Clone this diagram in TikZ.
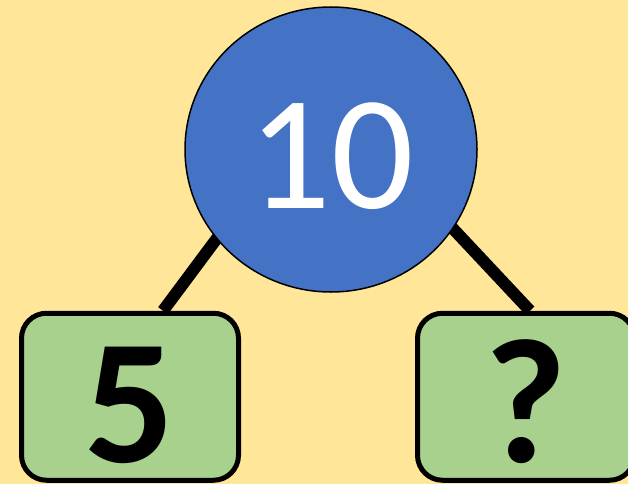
\documentclass[tikz,border=0pt]{standalone}
\usepackage{fontspec}
\setmainfont{Carlito}
\usetikzlibrary{shapes.geometric,backgrounds}
\definecolor{bgyellow}{HTML}{FFE699}
\definecolor{wholeblue}{HTML}{4472C4}
\definecolor{partgreen}{HTML}{A9D18E}
\tikzset{
  whole/.style={ellipse,draw,line width=1.5pt,fill=wholeblue,text=white,minimum width=292pt,minimum height=285pt,inner sep=0pt,text height=117pt,text depth=0pt,font=\fontsize{163}{163}\selectfont},
  part/.style={rectangle,draw,line width=5pt,fill=partgreen,rounded corners=25pt,minimum width=217pt,minimum height=167pt,inner sep=0pt,text height=132pt,text depth=0pt,font=\bfseries\fontsize{178}{178}\selectfont},
  link/.style={line width=12pt,shorten <=-20pt}
}
\begin{document}
\begin{tikzpicture}[x=1pt,y=-1pt]
                \useasboundingbox (0,0) rectangle (628,484);
                \node[whole] (ten) at (331,149.5) {10};
                \node[part] (five) at (130,396.75) {5};
                \node[part] (unknown) at (526,396.75) {?};
                \begin{scope}[on background layer]
                \fill[bgyellow] (0,0) rectangle (628,484);
                \draw[link] (ten.218) -- ([xshift=33pt]five.north);
                \draw[link] (ten.327) -- ([xshift=4pt]unknown.north);
                \end{scope}
            \end{tikzpicture}
\end{document}
